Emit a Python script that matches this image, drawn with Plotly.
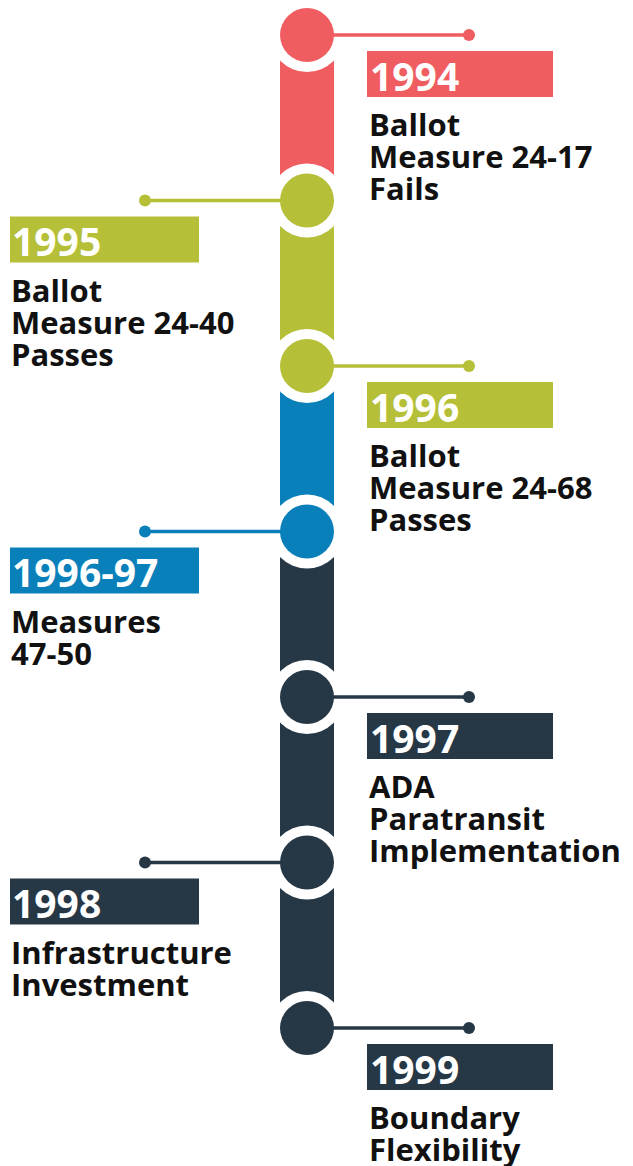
import plotly.graph_objects as go

# timeline data
years = ["1994", "1995", "1996", "1996-97", "1997", "1998", "1999"]
descriptions = [
    ["Ballot", "Measure 24-17", "Fails"],
    ["Ballot", "Measure 24-40", "Passes"],
    ["Ballot", "Measure 24-68", "Passes"],
    ["Measures", "47-50"],
    ["ADA", "Paratransit", "Implementation"],
    ["Infrastructure", "Investment"],
    ["Boundary", "Flexibility"],
]
sides = ["right", "left", "right", "left", "right", "left", "right"]
event_colors = ["#F05D60", "#B5BF37", "#B5BF37", "#0A80BA", "#263746", "#263746", "#263746"]
segment_colors = ["#F05D60", "#B5BF37", "#0A80BA", "#263746", "#263746", "#263746"]

W, H = 633, 1166
PAGE_OFF = 8  # default body margin of the html page
top_px, step_px = 35, 165.5
n = len(years)


def u(px):
    # pixel offset -> y axis units
    return px / step_px


spine_x = 307
half_w = 27
right_end, left_end = 469, 145
box = {"right": (367, 553), "left": (10, 199)}
text_x = {"right": 368, "left": 10}

fig = go.Figure()
shapes = []
annotations = []

# spine segments
for i, col in enumerate(segment_colors):
    shapes.append(dict(type="rect", xref="x", yref="y", layer="below",
                       x0=spine_x - half_w, x1=spine_x + half_w, y0=i, y1=i + 1,
                       fillcolor=col, line_width=0))

idx = list(range(n))

# white rings around the nodes
fig.add_trace(go.Scatter(x=[spine_x] * n, y=idx, mode="markers",
                         marker=dict(size=74, color="white", line_width=0),
                         hoverinfo="skip"))

# connectors
for i in idx:
    end = right_end if sides[i] == "right" else left_end
    fig.add_trace(go.Scatter(x=[spine_x, end], y=[i, i], mode="lines",
                             line=dict(color=event_colors[i], width=3.5),
                             hoverinfo="skip"))
    fig.add_trace(go.Scatter(x=[end], y=[i], mode="markers",
                             marker=dict(size=12, color=event_colors[i], line_width=0),
                             hoverinfo="skip"))

# nodes
fig.add_trace(go.Scatter(x=[spine_x] * n, y=idx, mode="markers",
                         marker=dict(size=54, color=event_colors, line_width=0),
                         hoverinfo="text", text=years))

for i in idx:
    s = sides[i]
    x0, x1 = box[s]
    shapes.append(dict(type="rect", xref="x", yref="y", layer="above",
                       x0=x0, x1=x1, y0=i + u(16), y1=i + u(62),
                       fillcolor=event_colors[i], line_width=0))
    annotations.append(dict(x=text_x[s], y=i + u(40), xref="x", yref="y",
                            text=years[i], showarrow=False, xanchor="left",
                            yanchor="middle",
                            font=dict(family="Open Sans", size=39, color="white",
                                      weight="bold")))
    for k, line in enumerate(descriptions[i]):
        annotations.append(dict(x=text_x[s] - 1, y=i + u(89 + 32 * k), xref="x", yref="y",
                                text=line, showarrow=False, xanchor="left",
                                yanchor="middle",
                                font=dict(family="Open Sans", size=31, color="#111111",
                                          weight="bold")))

y_bottom = (n - 1) + u(H + PAGE_OFF - top_px - (n - 1) * step_px)
y_top = -u(top_px - PAGE_OFF)

fig.update_layout(
    width=W, height=H,
    margin=dict(l=0, r=0, t=0, b=0),
    paper_bgcolor="white", plot_bgcolor="white",
    showlegend=False,
    shapes=shapes, annotations=annotations,
    xaxis=dict(range=[PAGE_OFF, W + PAGE_OFF], visible=False, fixedrange=True),
    yaxis=dict(range=[y_bottom, y_top], visible=False, fixedrange=True),
)

fig.write_html("out.html")
